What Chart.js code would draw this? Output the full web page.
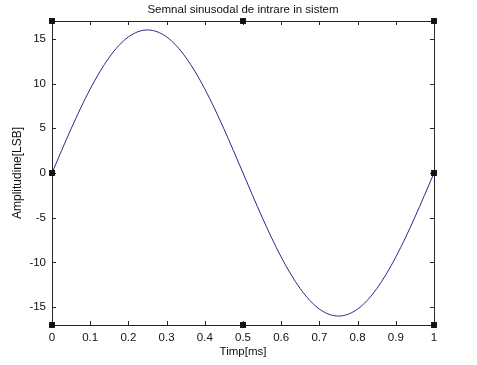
<!DOCTYPE html>
<html>
<head>
<meta charset="utf-8">
<script src="https://cdn.jsdelivr.net/npm/chart.js@4"></script>
<style>
html,body{margin:0;padding:0;background:#fff;}
#wrap{width:477px;height:365px;}
</style>
</head>
<body>
<div id="wrap"><canvas id="c" width="477" height="365"></canvas></div>
<script>
// Data
const timeMs = [0,0.025,0.05,0.075,0.1,0.125,0.15,0.175,0.2,0.225,0.25,0.275,0.3,0.325,0.35,0.375,0.4,0.425,0.45,0.475,0.5,0.525,0.55,0.575,0.6,0.625,0.65,0.675,0.7,0.725,0.75,0.775,0.8,0.825,0.85,0.875,0.9,0.925,0.95,0.975,1];
const amplitude = [0,2.5,4.94,7.26,9.4,11.31,12.94,14.26,15.22,15.8,16,15.8,15.22,14.26,12.94,11.31,9.4,7.26,4.94,2.5,0,-2.5,-4.94,-7.26,-9.4,-11.31,-12.94,-14.26,-15.22,-15.8,-16,-15.8,-15.22,-14.26,-12.94,-11.31,-9.4,-7.26,-4.94,-2.5,0];
const xTicks = [0,0.1,0.2,0.3,0.4,0.5,0.6,0.7,0.8,0.9,1];
const yTicks = [-15,-10,-5,0,5,10,15];
const xRange = [0,1];
const yRange = [-17,17];
const handleX = [0,0.5,1,0,1,0,0.5,1];
const handleY = [17,17,17,0,0,-17,-17,-17];
const titleText = 'Semnal sinusodal de intrare in sistem';
const xTitle = 'Timp[ms]';
const yTitle = 'Amplitudine[LSB]';

const FONT = 'Liberation Sans, Arial, sans-serif';

const boxPlugin = {
  id: 'matlabBox',
  beforeDatasetsDraw(chart) {
    const {ctx, chartArea: a, scales} = chart;
    ctx.save();
    ctx.strokeStyle = '#262626';
    ctx.lineWidth = 1;
    ctx.beginPath();
    ctx.rect(Math.round(a.left)+0.5, Math.round(a.top)+0.5, Math.round(a.right-a.left), Math.round(a.bottom-a.top));
    ctx.stroke();
    const L = 4;
    ctx.beginPath();
    scales.x.ticks.forEach(t => {
      const px = Math.round(scales.x.getPixelForValue(t.value)) + 0.5;
      ctx.moveTo(px, a.bottom); ctx.lineTo(px, a.bottom - L);
      ctx.moveTo(px, a.top); ctx.lineTo(px, a.top + L);
    });
    scales.y.ticks.forEach(t => {
      const py = Math.round(scales.y.getPixelForValue(t.value)) + 0.5;
      ctx.moveTo(a.left, py); ctx.lineTo(a.left + L, py);
      ctx.moveTo(a.right, py); ctx.lineTo(a.right - L, py);
    });
    ctx.stroke();
    ctx.restore();
  }
};

new Chart(document.getElementById('c'), {
  type: 'line',
  data: {
    datasets: [
      {
        label: 'handles',
        type: 'scatter',
        data: handleX.map((x, i) => ({x, y: handleY[i]})),
        pointStyle: 'rect',
        pointRadius: 4.2,
        backgroundColor: '#111',
        borderColor: '#111',
        borderWidth: 0,
        showLine: false,
        clip: false,
        order: 0
      },
      {
        label: 'signal',
        data: timeMs.map((x, i) => ({x, y: amplitude[i]})),
        borderColor: '#2a2a8c',
        borderWidth: 1,
        pointRadius: 0,
        tension: 0.4,
        cubicInterpolationMode: 'monotone',
        fill: false,
        order: 1
      }
    ]
  },
  options: {
    responsive: false,
    animation: false,
    devicePixelRatio: 1,
    layout: { padding: { top: 0, right: 43, left: 0, bottom: 0 } },
    plugins: {
      legend: { display: false },
      tooltip: { enabled: false },
      title: {
        display: true,
        fullSize: false,
        text: titleText,
        color: '#111',
        font: { family: FONT, size: 11.5, weight: 'normal' },
        padding: { top: 3, bottom: 4.2 }
      }
    },
    scales: {
      x: {
        type: 'linear',
        min: xRange[0], max: xRange[1],
        afterBuildTicks: s => { s.ticks = xTicks.map(v => ({value: v})); },
        afterFit: s => { s.height = 40; },
        grid: { display: false, drawTicks: false },
        border: { display: false },
        ticks: {
          color: '#111',
          padding: 6,
          maxRotation: 0,
          autoSkip: false,
          font: { family: FONT, size: 11.5 },
          callback: v => String(v)
        },
        title: {
          display: true, text: xTitle, color: '#111',
          font: { family: FONT, size: 11.5 },
          padding: { top: 0, bottom: 6.5 }
        }
      },
      y: {
        type: 'linear',
        min: yRange[0], max: yRange[1],
        afterBuildTicks: s => { s.ticks = yTicks.map(v => ({value: v})); },
        afterFit: s => { s.width = 52; },
        grid: { display: false, drawTicks: false },
        border: { display: false },
        ticks: {
          color: '#111',
          padding: 6,
          autoSkip: false,
          font: { family: FONT, size: 11.5 },
          callback: v => String(v)
        },
        title: {
          display: true, text: yTitle, color: '#111',
          font: { family: FONT, size: 12 },
          padding: { top: 10, bottom: 0 }
        }
      }
    }
  },
  plugins: [boxPlugin]
});
</script>
</body>
</html>
